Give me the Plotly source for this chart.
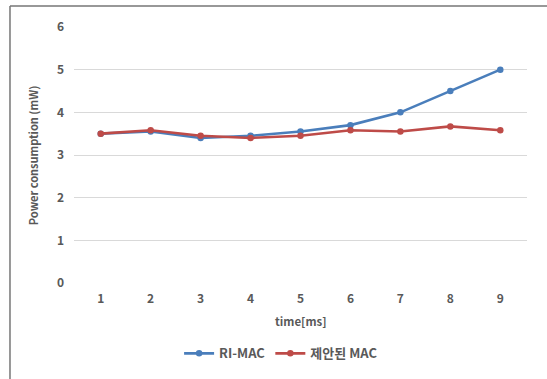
import plotly.graph_objects as go

categories = ["1", "2", "3", "4", "5", "6", "7", "8", "9"]
ri_mac = [3.5, 3.55, 3.4, 3.45, 3.55, 3.7, 4.0, 4.5, 5.0]
proposed_mac = [3.5, 3.58, 3.45, 3.4, 3.45, 3.58, 3.55, 3.67, 3.58]
y_ticks = [0, 1, 2, 3, 4, 5, 6]
series_names = ["RI-MAC", "제안된 MAC"]

FONT = "Noto Sans CJK KR, Malgun Gothic, sans-serif"
TXT = "#595959"

fig = go.Figure()
fig.add_trace(go.Scatter(x=categories, y=ri_mac, name=series_names[0], mode="lines+markers",
                         line=dict(color="#4a7ebb", width=2.6), marker=dict(size=6.5, color="#4a7ebb")))
fig.add_trace(go.Scatter(x=categories, y=proposed_mac, name=series_names[1], mode="lines+markers",
                         line=dict(color="#be4b48", width=2.6), marker=dict(size=6.5, color="#be4b48")))

fig.update_layout(
    width=547, height=379,
    margin=dict(l=74, r=20, t=27, b=95),
    paper_bgcolor="white", plot_bgcolor="white",
    font=dict(family=FONT, color=TXT, size=11),
    showlegend=True,
    legend=dict(orientation="h", x=0.232, xanchor="left", y=-0.27, yanchor="middle",
                font=dict(family=FONT, size=13, color=TXT, weight="bold"),
                itemwidth=30, tracegroupgap=0),
    xaxis=dict(type="category", showgrid=False, zeroline=False, showline=False, ticks="",
               tickfont=dict(family=FONT, size=12, color=TXT, weight="bold"),
               ticklabelstandoff=7),
    yaxis=dict(range=[0, 6], tickvals=y_ticks, showgrid=True, gridcolor="#d9d9d9", gridwidth=1,
               zeroline=False, showline=False, ticks="",
               tickfont=dict(family=FONT, size=12, color=TXT, weight="bold"),
               ticklabelstandoff=9),
    annotations=[
        dict(text="Power consumption (mW)", xref="paper", yref="paper", x=-0.09, y=0.5,
             xanchor="center", yanchor="middle", textangle=-90, showarrow=False,
             font=dict(family=FONT, size=11, color=TXT, weight="bold")),
        dict(text="time[ms]", xref="paper", yref="paper", x=0.5, y=-0.15,
             xanchor="center", yanchor="middle", showarrow=False,
             font=dict(family=FONT, size=11.5, color=TXT, weight="bold")),
    ],
    shapes=[
        dict(type="line", xref="paper", yref="paper", x0=-0.1413, x1=1.05, y0=1.0817, y1=1.0817,
             line=dict(color="#767676", width=1.5)),
        dict(type="line", xref="paper", yref="paper", x0=-0.1413, x1=-0.1413, y0=1.0817, y1=-0.4,
             line=dict(color="#767676", width=1.5)),
    ],
)

fig.write_html("out.html", config={"displayModeBar": False},
               post_script="document.body.style.margin='0';")
